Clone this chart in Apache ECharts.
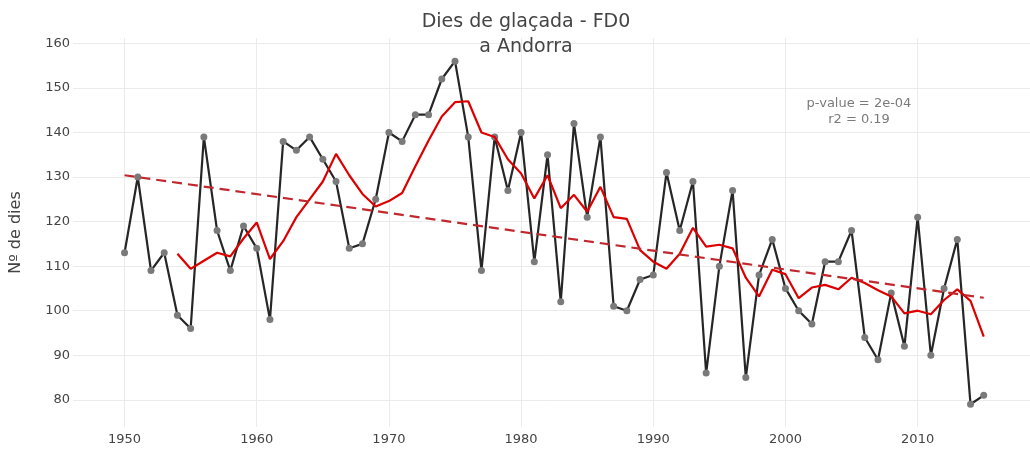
<!DOCTYPE html>
<html>
<head>
<meta charset="utf-8">
<script src="https://cdn.jsdelivr.net/npm/echarts@6/dist/echarts.min.js"></script>
<style>
  html, body { margin: 0; padding: 0; background: #fff; }
  #chart { width: 1030px; height: 449px; }
</style>
</head>
<body>
<div id="chart"></div>
<script>
// annual frost days (FD0), Andorra
var years = [1950, 1951, 1952, 1953, 1954, 1955, 1956, 1957, 1958, 1959,
             1960, 1961, 1962, 1963, 1964, 1965, 1966, 1967, 1968, 1969,
             1970, 1971, 1972, 1973, 1974, 1975, 1976, 1977, 1978, 1979,
             1980, 1981, 1982, 1983, 1984, 1985, 1986, 1987, 1988, 1989,
             1990, 1991, 1992, 1993, 1994, 1995, 1996, 1997, 1998, 1999,
             2000, 2001, 2002, 2003, 2004, 2005, 2006, 2007, 2008, 2009,
             2010, 2011, 2012, 2013, 2014, 2015];
var frostDays = [113, 130, 109, 113, 99, 96, 139, 118, 109, 119,
                 114, 98, 138, 136, 139, 134, 129, 114, 115, 125,
                 140, 138, 144, 144, 152, 156, 139, 109, 139, 127,
                 140, 111, 135, 102, 142, 121, 139, 101, 100, 107,
                 108, 131, 118, 129, 86, 110, 127, 85, 108, 116,
                 105, 100, 97, 111, 111, 118, 94, 89, 104, 92,
                 121, 90, 105, 116, 79, 81];
// red curve, starts in 1954
var avgYears = years.slice(4);
var avgValues = [112.8, 109.4, 111.2, 113.0, 112.2, 116.2,
                 119.8, 111.6, 115.6, 121.0, 125.0, 129.0, 135.2, 130.4, 126.2, 123.4,
                 124.6, 126.4, 132.4, 138.2, 143.6, 146.8, 147.0, 140.0, 139.0, 134.0,
                 130.8, 125.2, 130.4, 123.0, 126.0, 122.2, 127.8, 121.0, 120.6, 113.6,
                 111.0, 109.4, 112.8, 118.6, 114.4, 114.8, 114.0, 107.4, 103.2, 109.2,
                 108.2, 102.8, 105.2, 105.8, 104.8, 107.4, 106.2, 104.6, 103.2, 99.4,
                 100.0, 99.2, 102.4, 104.8, 102.2, 94.2];
var trendYears = [1950, 2015];
var trendValues = [130.4, 102.9];
var xTicks = [1950, 1960, 1970, 1980, 1990, 2000, 2010];
var yTicks = [80, 90, 100, 110, 120, 130, 140, 150, 160];

function pairs(xs, ys) {
    return xs.map(function (x, i) { return [x, ys[i]]; });
}

var font = 'DejaVu Sans';
var chart = echarts.init(document.getElementById('chart'));
chart.setOption({
    animation: false,
    backgroundColor: '#fff',
    title: {
        text: 'Dies de glaçada - FD0\na Andorra',
        left: 521,
        top: 5,
        textAlign: 'center',
        textStyle: { fontFamily: font, fontSize: 19, fontWeight: 'normal', color: '#444', lineHeight: 25 }
    },
    grid: { left: 72, right: 0, top: 38, bottom: 22 },
    xAxis: {
        type: 'value',
        min: 1946.1,
        max: 2018.5,
        axisLine: { show: false },
        axisTick: { show: false, customValues: xTicks },
        splitLine: { show: true, lineStyle: { color: '#ebebeb', width: 1 } },
        axisLabel: {
            customValues: xTicks, color: '#444', fontFamily: font, fontSize: 13, margin: 6,
            formatter: function (v) { return String(v); }
        }
    },
    yAxis: {
        type: 'value',
        min: 73.9,
        max: 161.2,
        name: 'Nº de dies',
        nameLocation: 'middle',
        nameGap: 49,
        nameTextStyle: { fontFamily: font, fontSize: 16, color: '#444' },
        axisLine: { show: false },
        axisTick: { show: false, customValues: yTicks },
        splitLine: { show: true, lineStyle: { color: '#ebebeb', width: 1 } },
        axisLabel: { customValues: yTicks, color: '#444', fontFamily: font, fontSize: 13, margin: 3 }
    },
    graphic: [{
        type: 'text',
        x: 859,
        y: 96,
        style: {
            text: 'p-value = 2e-04\nr2 = 0.19',
            align: 'center',
            verticalAlign: 'top',
            fontFamily: font,
            fontSize: 13,
            lineHeight: 16,
            fill: '#7a7a7a'
        },
        z: 100
    }],
    series: [
        {
            type: 'line',
            data: pairs(years, frostDays),
            symbol: 'circle',
            symbolSize: 7,
            showAllSymbol: true,
            itemStyle: { color: '#7a7a7a' },
            lineStyle: { color: '#262626', width: 2.2 },
            z: 2
        },
        {
            type: 'line',
            data: pairs(avgYears, avgValues),
            symbol: 'none',
            lineStyle: { color: '#dd0000', width: 2.2 },
            z: 3
        },
        {
            type: 'line',
            data: pairs(trendYears, trendValues),
            symbol: 'none',
            lineStyle: { color: '#c0282e', width: 2.2, type: [10, 6] },
            z: 4
        }
    ]
});
</script>
</body>
</html>
